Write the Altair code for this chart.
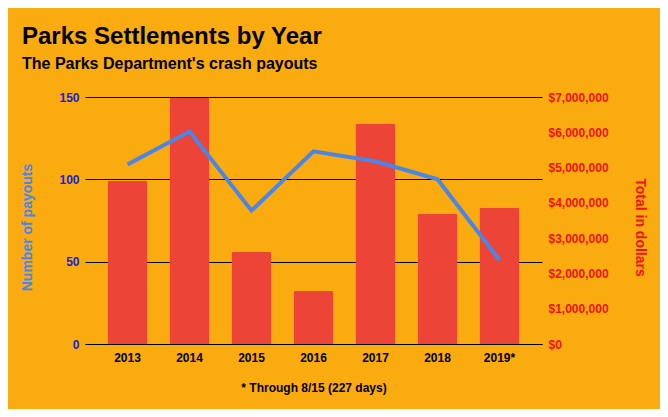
import altair as alt
import pandas as pd

years = ["2013", "2014", "2015", "2016", "2017", "2018", "2019*"]
payouts = [109, 129, 81, 117, 111, 100, 51]
dollars = [4630000, 6980000, 2610000, 1500000, 6240000, 3690000, 3860000]

df = pd.DataFrame({"year": years, "payouts": payouts, "dollars": dollars})

FONT = "Liberation Sans"
BG = "#F9AB10"

x_enc = alt.X(
    "year:N",
    sort=years,
    scale=alt.Scale(paddingInner=0.355, paddingOuter=0.363),
    axis=alt.Axis(
        title="* Through 8/15 (227 days)",
        labelAngle=0,
        ticks=False,
        domainColor="#000000",
        domainWidth=1,
        labelColor="#000000",
        labelFont=FONT,
        labelFontSize=12,
        labelFontWeight="bold",
        labelPadding=8,
        titleFont=FONT,
        titleFontSize=12,
        titleFontWeight="bold",
        titleColor="#000000",
        titlePadding=19,
        grid=False,
    ),
)

bars = alt.Chart(df).mark_bar(
    color="#EC4436", cornerRadiusTopLeft=2, cornerRadiusTopRight=2
).encode(
    x=x_enc,
    y=alt.Y(
        "dollars:Q",
        scale=alt.Scale(domain=[0, 7000000], nice=False),
        axis=alt.Axis(
            orient="right",
            title="Total in dollars",
            values=[0, 1000000, 2000000, 3000000, 4000000, 5000000, 6000000, 7000000],
            format="$,.0f",
            grid=False,
            ticks=False,
            domain=False,
            labelColor="#F01212",
            labelFont=FONT,
            labelFontSize=12,
            labelFontWeight="bold",
            labelPadding=6,
            titleColor="#F01212",
            titleFont=FONT,
            titleFontSize=14,
            titleFontWeight="bold",
            titlePadding=24,
            titleY=130,
        ),
    ),
)

line = alt.Chart(df).mark_line(color="#4A86E8", strokeWidth=4).encode(
    x=alt.X("year:N", sort=years),
    y=alt.Y(
        "payouts:Q",
        scale=alt.Scale(domain=[0, 150], nice=False),
        axis=alt.Axis(
            orient="left",
            title="Number of payouts",
            values=[0, 50, 100, 150],
            grid=True,
            gridColor="#000000",
            gridWidth=1,
            gridOpacity=1,
            ticks=False,
            domain=False,
            labelColor="#2020D8",
            labelFont=FONT,
            labelFontSize=12,
            labelFontWeight="bold",
            labelPadding=6,
            titleColor="#4A86E8",
            titleFont=FONT,
            titleFontSize=14,
            titleFontWeight="bold",
            titlePadding=24,
            titleY=130,
        ),
    ),
)

chart = (
    alt.layer(bars, line)
    .resolve_scale(y="independent")
    .properties(
        width=457,
        height=247,
        autosize=alt.AutoSizeParams(type="none"),
        padding={"left": 77, "top": 89, "right": 118, "bottom": 65},
        background=BG,
        title=alt.TitleParams(
            text="Parks Settlements by Year",
            subtitle="The Parks Department's crash payouts",
            anchor="start",
            frame="group",
            dx=-63,
            offset=19,
            font=FONT,
            fontSize=24,
            fontWeight="bold",
            color="#000000",
            subtitleFont=FONT,
            subtitleFontSize=16,
            subtitleFontWeight="bold",
            subtitleColor="#000000",
            subtitlePadding=7,
        ),
    )
    .configure_view(stroke=None)
)

chart.save("out.html", embed_options={"renderer": "svg", "actions": False})
